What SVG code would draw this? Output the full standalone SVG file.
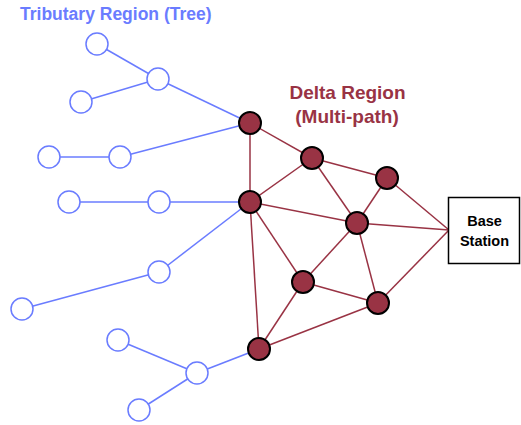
<svg xmlns="http://www.w3.org/2000/svg" width="521" height="425" viewBox="0 0 521 425">
<style>
.t{stroke:#6a7cff;stroke-width:1.5;fill:#fff}
.d{stroke:#000;stroke-width:2;fill:#993344}
.be{stroke:#6a7cff;stroke-width:1.5;fill:none}
.re{stroke:#993344;stroke-width:1.5;fill:none}
.lbl{font-family:"Liberation Sans",Arial,sans-serif;font-weight:bold}
</style>
<rect width="521" height="425" fill="#fff"/>
<text class="lbl" x="20" y="20" font-size="17.5" fill="#6a7cff">Tributary Region (Tree)</text>
<text class="lbl" x="347.5" y="99" font-size="19" fill="#993344" text-anchor="middle">Delta Region</text>
<text class="lbl" x="347" y="123" font-size="19" fill="#993344" text-anchor="middle">(Multi-path)</text>
<g id="connectors">
<g class="be">
<line x1="97" y1="44" x2="158" y2="79"/>
<line x1="81" y1="102" x2="158" y2="79"/>
<line x1="158" y1="79" x2="250" y2="123"/>
<line x1="49" y1="157" x2="120" y2="157"/>
<line x1="120" y1="157" x2="250" y2="123"/>
<line x1="69" y1="202" x2="159" y2="202"/>
<line x1="159" y1="202" x2="250" y2="202"/>
<line x1="159" y1="272" x2="250" y2="202"/>
<line x1="22" y1="309" x2="159" y2="272"/>
<line x1="118" y1="340" x2="197" y2="373"/>
<line x1="139" y1="410" x2="197" y2="373"/>
<line x1="197" y1="373" x2="259" y2="349"/>
</g>
<g class="re">
<line x1="250" y1="123" x2="250" y2="202"/>
<line x1="250" y1="123" x2="312" y2="158"/>
<line x1="250" y1="202" x2="312" y2="158"/>
<line x1="312" y1="158" x2="387" y2="178"/>
<line x1="312" y1="158" x2="357" y2="223"/>
<line x1="250" y1="202" x2="357" y2="223"/>
<line x1="250" y1="202" x2="303" y2="282"/>
<line x1="250" y1="202" x2="259" y2="349"/>
<line x1="387" y1="178" x2="357" y2="223"/>
<line x1="387" y1="178" x2="449" y2="230"/>
<line x1="357" y1="223" x2="449" y2="230"/>
<line x1="357" y1="223" x2="303" y2="282"/>
<line x1="357" y1="223" x2="378" y2="303"/>
<line x1="303" y1="282" x2="378" y2="303"/>
<line x1="303" y1="282" x2="259" y2="349"/>
<line x1="259" y1="349" x2="378" y2="303"/>
<line x1="378" y1="303" x2="449" y2="230"/>
</g>
</g>
<g id="tA"><circle class="t" cx="97" cy="44" r="11"/></g>
<g id="tB"><circle class="t" cx="158" cy="79" r="11"/></g>
<g id="tC"><circle class="t" cx="81" cy="102" r="11"/></g>
<g id="tD"><circle class="t" cx="49" cy="157" r="11"/></g>
<g id="tE"><circle class="t" cx="120" cy="157" r="11"/></g>
<g id="tF"><circle class="t" cx="69" cy="202" r="11"/></g>
<g id="tG"><circle class="t" cx="159" cy="202" r="11"/></g>
<g id="tH"><circle class="t" cx="159" cy="272" r="11"/></g>
<g id="tI"><circle class="t" cx="22" cy="309" r="11"/></g>
<g id="tJ"><circle class="t" cx="118" cy="340" r="11"/></g>
<g id="tK"><circle class="t" cx="197" cy="373" r="11"/></g>
<g id="tL"><circle class="t" cx="139" cy="410" r="11"/></g>
<g id="d1"><circle class="d" cx="250" cy="123" r="11"/></g>
<g id="d2"><circle class="d" cx="250" cy="202" r="11"/></g>
<g id="d3"><circle class="d" cx="259" cy="349" r="11"/></g>
<g id="d4"><circle class="d" cx="312" cy="158" r="11"/></g>
<g id="d5"><circle class="d" cx="387" cy="178" r="11"/></g>
<g id="d6"><circle class="d" cx="357" cy="223" r="11"/></g>
<g id="d7"><circle class="d" cx="303" cy="282" r="11"/></g>
<g id="d8"><circle class="d" cx="378" cy="303" r="11"/></g>
<g id="base">
<rect x="448.5" y="197.5" width="71" height="66" fill="#fff" stroke="#000" stroke-width="1.5"/>
<text class="lbl" x="484.5" y="226" font-size="14.5" fill="#000" text-anchor="middle">Base</text>
<text class="lbl" x="484.5" y="246" font-size="14.5" fill="#000" text-anchor="middle">Station</text>
</g>
</svg>
